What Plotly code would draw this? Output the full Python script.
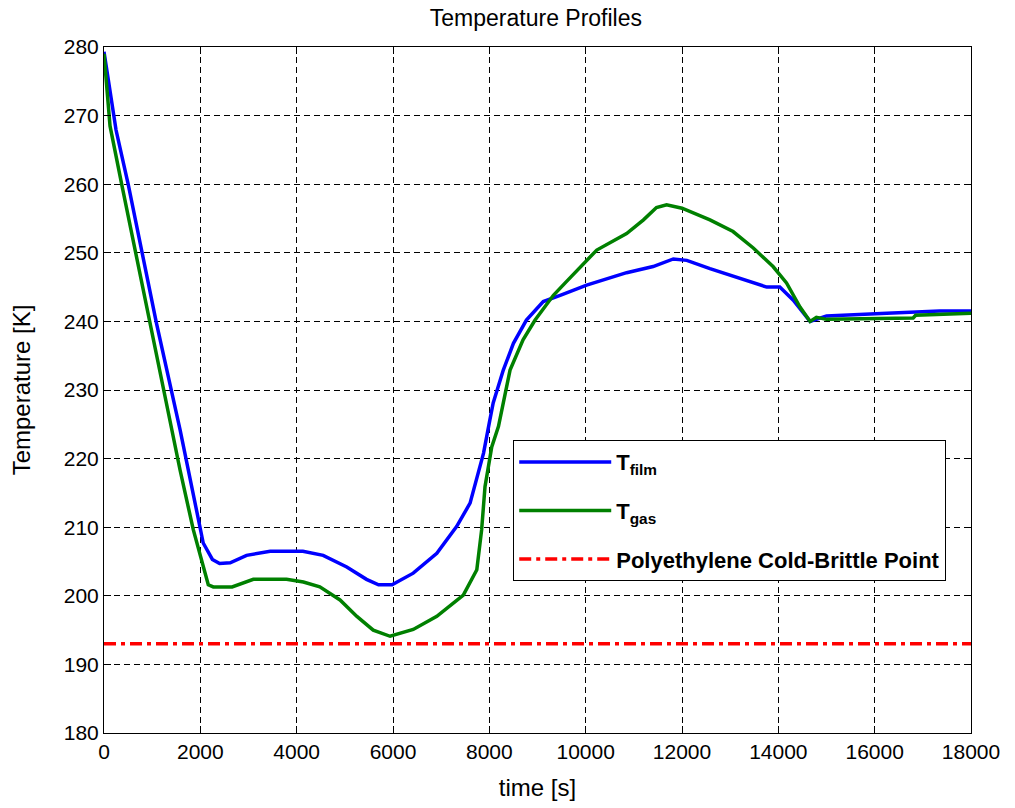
import plotly.graph_objects as go

# ---- data ----
t_film = [0, 90, 250, 505, 1090, 1580, 2060, 2250, 2400, 2620, 2960, 3450, 4130, 4550,
          5040, 5450, 5700, 5980, 6420, 6910, 7320, 7600, 7880, 8010, 8080, 8290, 8500,
          8770, 9120, 9470, 10020, 10850, 11400, 11820, 12100, 12580, 13200, 13760,
          14030, 14310, 14660, 15000, 16250, 17350, 18000]
T_film = [279.3, 275.2, 267.9, 259.9, 239.7, 224.2, 207.7, 205.3, 204.7, 204.8, 205.9,
          206.5, 206.5, 205.9, 204.2, 202.4, 201.6, 201.6, 203.3, 206.2, 210.1, 213.5,
          220.8, 225.6, 228.1, 232.9, 236.8, 240.2, 242.9, 243.8, 245.3, 247.1, 248.0,
          249.1, 248.9, 247.7, 246.3, 245.0, 245.0, 243.1, 240.0, 240.8, 241.2, 241.5,
          241.5]

t_gas = [0, 60, 125, 370, 950, 1580, 1855, 2165, 2270, 2660, 3100, 3790, 4140, 4480,
         4900, 5250, 5590, 5940, 6420, 6910, 7460, 7740, 7840, 7910, 8050, 8190, 8430,
         8700, 8950, 9330, 9600, 10000, 10230, 10850, 11200, 11470, 11680, 12000, 12580,
         13060, 13480, 13890, 14170, 14450, 14660, 14790, 15000, 16800, 16850, 18000]
T_gas = [279.0, 274.0, 268.5, 259.9, 239.7, 218.3, 209.6, 201.6, 201.3, 201.3, 202.4,
         202.4, 202.0, 201.3, 199.4, 197.0, 195.0, 194.1, 195.1, 197.0, 200.1, 203.8,
         209.6, 215.9, 221.7, 224.7, 232.9, 237.3, 240.2, 243.8, 245.8, 248.7, 250.4,
         252.8, 254.8, 256.6, 257.0, 256.5, 254.8, 253.1, 250.7, 248.0, 245.6, 242.1,
         240.0, 240.6, 240.3, 240.5, 240.9, 241.2]

t_brittle = [0, 18000]
T_brittle = [193, 193]

names = ["<b>T<sub>film</sub></b>", "<b>T<sub>gas</sub></b>",
         "<b>Polyethylene Cold-Brittle Point</b>"]
x_ticks = list(range(0, 18001, 2000))
x_labels = [str(v) for v in x_ticks]
y_ticks = list(range(180, 281, 10))
y_labels = [str(v) for v in y_ticks]

FONT = "Liberation Sans, Arial, Helvetica, sans-serif"

fig = go.Figure()
fig.add_trace(go.Scatter(x=t_film, y=T_film, mode="lines", name=names[0],
                         legendgroup="a", line=dict(color="#0000FF", width=3.5)))
fig.add_trace(go.Scatter(x=t_gas, y=T_gas, mode="lines", name=names[1],
                         legendgroup="b", line=dict(color="#008000", width=3.5)))
fig.add_trace(go.Scatter(x=t_brittle, y=T_brittle, mode="lines", name=names[2],
                         legendgroup="c",
                         line=dict(color="#FF0000", width=3.5, dash="12px,5px,4px,5px")))

axis_common = dict(showline=True, linecolor="black", linewidth=1, mirror="ticks",
                   ticks="inside", ticklen=7, tickcolor="black",
                   showgrid=True, gridcolor="black", gridwidth=1, griddash="6px,4px",
                   zeroline=False, tickfont=dict(family=FONT, size=21, color="black"))

fig.update_xaxes(range=[0, 18000], tickvals=x_ticks, ticktext=x_labels,
                 title=dict(text="time [s]", font=dict(family=FONT, size=24, color="black"),
                            standoff=16),
                 **axis_common)
fig.update_yaxes(range=[180, 280], tickvals=y_ticks, ticktext=y_labels,
                 title=dict(text="Temperature [K]", font=dict(family=FONT, size=24, color="black"),
                            standoff=26),
                 **axis_common)

fig.update_layout(
    width=1015, height=808,
    margin=dict(l=104, r=44, t=47, b=75),
    paper_bgcolor="white", plot_bgcolor="white",
    title=dict(text="Temperature Profiles", x=0.528, xanchor="center",
               y=1 - 18 / 808, yanchor="middle",
               font=dict(family=FONT, size=23, color="black")),
    legend=dict(x=0.472, y=0.427, xanchor="left", yanchor="top",
                bgcolor="white", bordercolor="black", borderwidth=1,
                font=dict(family=FONT, size=22, color="black"),
                tracegroupgap=17, itemwidth=92),
    showlegend=True,
)

fig.write_html("out.html")
